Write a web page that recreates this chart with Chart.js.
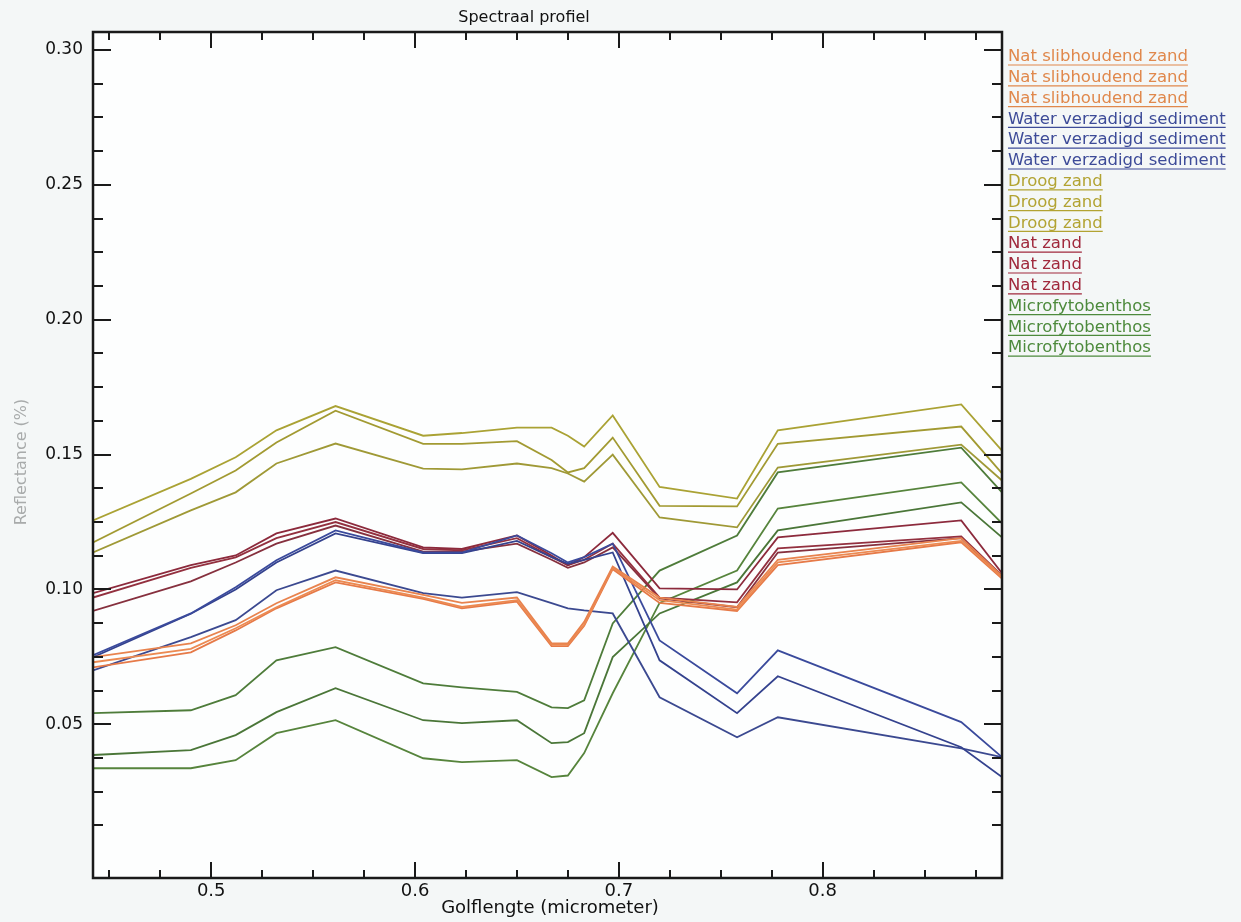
<!DOCTYPE html>
<html>
<head>
<meta charset="utf-8">
<script src="https://cdn.jsdelivr.net/npm/chart.js@4/dist/chart.umd.min.js"></script>
<style>
    html, body { margin: 0; background: #f4f7f7; }
    #wrap { width: 1241px; height: 922px; }
</style>
</head>
<body>
<div id="wrap"><canvas id="spectraal_chart" width="1241" height="922"></canvas></div>
<script>
// golflengtes (micrometer) van de banden
const wavelengths = [0.442, 0.490, 0.512, 0.532, 0.561, 0.604, 0.623, 0.650, 0.667, 0.675, 0.683, 0.697, 0.720, 0.758, 0.778, 0.868, 0.888];

// Nat slibhoudend zand
const natSlib1 = [0.0749, 0.080, 0.0867, 0.0949, 0.1045, 0.098, 0.095, 0.097, 0.080, 0.080, 0.088, 0.1085, 0.097, 0.0935, 0.111, 0.119, 0.105];
const natSlib2 = [0.073, 0.078, 0.0856, 0.0934, 0.1034, 0.097, 0.0935, 0.096, 0.0795, 0.0795, 0.087, 0.108, 0.096, 0.0925, 0.110, 0.118, 0.1045];
const natSlib3 = [0.0711, 0.0767, 0.0848, 0.093, 0.1026, 0.0965, 0.093, 0.0955, 0.079, 0.079, 0.0865, 0.1075, 0.095, 0.092, 0.109, 0.1175, 0.104];
// Water verzadigd sediment
const water1 = [0.0756, 0.0911, 0.1008, 0.1108, 0.1219, 0.1137, 0.1137, 0.120, 0.1134, 0.110, 0.112, 0.117, 0.0811, 0.0615, 0.0774, 0.0508, 0.0378];
const water2 = [0.0749, 0.091, 0.100, 0.110, 0.1208, 0.1135, 0.1135, 0.118, 0.112, 0.1095, 0.111, 0.1137, 0.0737, 0.0541, 0.0678, 0.0415, 0.0304];
const water3 = [0.070, 0.0823, 0.0886, 0.0997, 0.107, 0.0986, 0.097, 0.099, 0.0949, 0.093, 0.0922, 0.0911, 0.060, 0.0452, 0.0526, 0.0411, 0.0378];
// Droog zand
const droog1 = [0.1256, 0.141, 0.149, 0.159, 0.168, 0.157, 0.158, 0.160, 0.160, 0.157, 0.153, 0.1645, 0.138, 0.1337, 0.159, 0.1686, 0.1515];
const droog2 = [0.1174, 0.1356, 0.1441, 0.1545, 0.1663, 0.154, 0.154, 0.155, 0.148, 0.1434, 0.145, 0.1563, 0.131, 0.1308, 0.154, 0.1604, 0.143];
const droog3 = [0.1137, 0.1293, 0.136, 0.1467, 0.1541, 0.1448, 0.1445, 0.1467, 0.145, 0.143, 0.140, 0.150, 0.1267, 0.123, 0.1452, 0.1537, 0.1404];
// Nat zand
const natZand1 = [0.0986, 0.109, 0.1126, 0.1208, 0.1263, 0.1156, 0.115, 0.120, 0.1126, 0.109, 0.112, 0.121, 0.1004, 0.100, 0.1193, 0.1256, 0.106];
const natZand2 = [0.097, 0.108, 0.1119, 0.119, 0.125, 0.115, 0.1145, 0.119, 0.112, 0.109, 0.111, 0.117, 0.097, 0.0952, 0.1152, 0.1197, 0.1052];
const natZand3 = [0.092, 0.103, 0.110, 0.117, 0.1237, 0.114, 0.114, 0.117, 0.111, 0.108, 0.110, 0.1156, 0.0967, 0.0934, 0.1137, 0.119, 0.1045];
// Microfytobenthos
const micro1 = [0.0541, 0.0552, 0.0608, 0.0737, 0.0786, 0.0652, 0.0637, 0.062, 0.0563, 0.056, 0.0589, 0.0874, 0.107, 0.120, 0.1434, 0.1526, 0.136];
const micro2 = [0.0386, 0.0404, 0.046, 0.0545, 0.0634, 0.0515, 0.0504, 0.0515, 0.043, 0.0434, 0.0467, 0.0749, 0.0911, 0.1026, 0.1219, 0.1323, 0.1193];
const micro3 = [0.0337, 0.0337, 0.0367, 0.0467, 0.0515, 0.0374, 0.036, 0.0367, 0.0304, 0.031, 0.0393, 0.0615, 0.095, 0.107, 0.130, 0.1397, 0.1245];

// as-labels
const xTickValues = [0.5, 0.6, 0.7, 0.8];
const yTickValues = [0.05, 0.10, 0.15, 0.20, 0.25, 0.30];

const series = [
    { label: "Nat slibhoudend zand", data: natSlib1, color: "#e8834e", text: "#e0884c" },
    { label: "Nat slibhoudend zand", data: natSlib2, color: "#ec8a52", text: "#e0884c" },
    { label: "Nat slibhoudend zand", data: natSlib3, color: "#e67a48", text: "#e0884c" },
    { label: "Water verzadigd sediment", data: water1, color: "#3a4a9c", text: "#3d4b98" },
    { label: "Water verzadigd sediment", data: water2, color: "#34428e", text: "#3d4b98" },
    { label: "Water verzadigd sediment", data: water3, color: "#3b4990", text: "#3d4b98" },
    { label: "Droog zand", data: droog1, color: "#aaa234", text: "#b2a332" },
    { label: "Droog zand", data: droog2, color: "#a29a32", text: "#b2a332" },
    { label: "Droog zand", data: droog3, color: "#9f9936", text: "#b2a332" },
    { label: "Nat zand", data: natZand1, color: "#8c2a3c", text: "#a0293c" },
    { label: "Nat zand", data: natZand2, color: "#93303f", text: "#a0293c" },
    { label: "Nat zand", data: natZand3, color: "#86303e", text: "#a0293c" },
    { label: "Microfytobenthos", data: micro1, color: "#4e7c3a", text: "#4d8a3c" },
    { label: "Microfytobenthos", data: micro2, color: "#4a7638", text: "#4d8a3c" },
    { label: "Microfytobenthos", data: micro3, color: "#56843c", text: "#4d8a3c" }
];

const frame = {
    id: 'frame',
    beforeDatasetsDraw(chart) {
        const { ctx, chartArea: a } = chart;
        ctx.save();
        ctx.fillStyle = "#fdfefe";
        ctx.fillRect(a.left, a.top, a.right - a.left, a.bottom - a.top);
        ctx.restore();
    },
    afterDatasetsDraw(chart) {
        const { ctx, chartArea: a } = chart;
        const xs = chart.scales.x, ys = chart.scales.y;
        ctx.save();
        ctx.strokeStyle = "#1a1a1a";
        ctx.fillStyle = "#111";

        // ticks (naar binnen, zoals IDL)
        ctx.lineWidth = 2;
        ctx.beginPath();
        for (let i = 18; i * 0.025 < 0.888; i++) {
            let px = Math.round(xs.getPixelForValue(i * 0.025));
            let len = (i % 4 == 0) ? 16 : 8;
            ctx.moveTo(px, a.bottom); ctx.lineTo(px, a.bottom - len);
            ctx.moveTo(px, a.top); ctx.lineTo(px, a.top + len);
        }
        for (let i = 1; i * 0.0125 <= 0.3001; i++) {
            let py = Math.round(ys.getPixelForValue(i * 0.0125));
            let len = (i % 4 == 0) ? 18 : 10;
            ctx.moveTo(a.left, py); ctx.lineTo(a.left + len, py);
            ctx.moveTo(a.right, py); ctx.lineTo(a.right - len, py);
        }
        ctx.stroke();

        // kader
        ctx.lineWidth = 2.5;
        ctx.strokeRect(a.left, a.top, a.right - a.left, a.bottom - a.top);

        // tick labels
        ctx.font = "18px 'DejaVu Sans'";
        ctx.textAlign = "center";
        ctx.textBaseline = "top";
        xTickValues.forEach(v => {
            ctx.fillText(v.toFixed(1), xs.getPixelForValue(v), a.bottom + 4);
        });
        ctx.font = "17px 'DejaVu Sans'";
        ctx.textAlign = "right";
        ctx.textBaseline = "middle";
        yTickValues.forEach(v => {
            ctx.fillText(v.toFixed(2), a.left - 10, ys.getPixelForValue(v));
        });

        // titels
        ctx.textAlign = "center";
        ctx.font = "16px 'DejaVu Sans'";
        ctx.fillText("Spectraal profiel", 524, 18);
        ctx.font = "18px 'DejaVu Sans'";
        ctx.fillText("Golflengte (micrometer)", 550, 908);
        ctx.save();
        ctx.translate(22, 462);
        ctx.rotate(-Math.PI / 2);
        ctx.fillStyle = "#a8abab";
        ctx.font = "16px 'DejaVu Sans'";
        ctx.fillText("Reflectance (%)", 0, 0);
        ctx.restore();

        // legenda
        ctx.textAlign = "left";
        ctx.font = "16.5px 'DejaVu Sans'";
        series.forEach((s, i) => {
            let y = 57 + i * 20.8;
            let w = ctx.measureText(s.label).width;
            ctx.fillStyle = s.text;
            ctx.strokeStyle = s.text;
            ctx.fillText(s.label, a.right + 6, y);
            ctx.lineWidth = 1.2;
            ctx.beginPath();
            ctx.moveTo(a.right + 6, y + 8);
            ctx.lineTo(a.right + 6 + w, y + 8);
            ctx.stroke();
        });
        ctx.restore();
    }
};

let spectraal_chart = new Chart(document.getElementById('spectraal_chart'), {
    type: 'line',
    data: {
        datasets: series.map(s => ({
            label: s.label,
            data: s.data.map((v, i) => ({ x: wavelengths[i], y: v })),
            borderColor: s.color,
            borderWidth: 1.8,
            pointRadius: 0,
            tension: 0,
            fill: false
        }))
    },
    options: {
        responsive: false,
        animation: false,
        devicePixelRatio: 1,
        layout: { padding: { left: 93, top: 32, right: 239, bottom: 44 } },
        plugins: { legend: { display: false }, title: { display: false }, tooltip: { enabled: false } },
        scales: {
            x: { type: 'linear', min: 0.442, max: 0.888, display: false },
            y: { type: 'linear', min: -0.007, max: 0.3067, display: false }
        }
    },
    plugins: [frame]
});
</script>
</body>
</html>
